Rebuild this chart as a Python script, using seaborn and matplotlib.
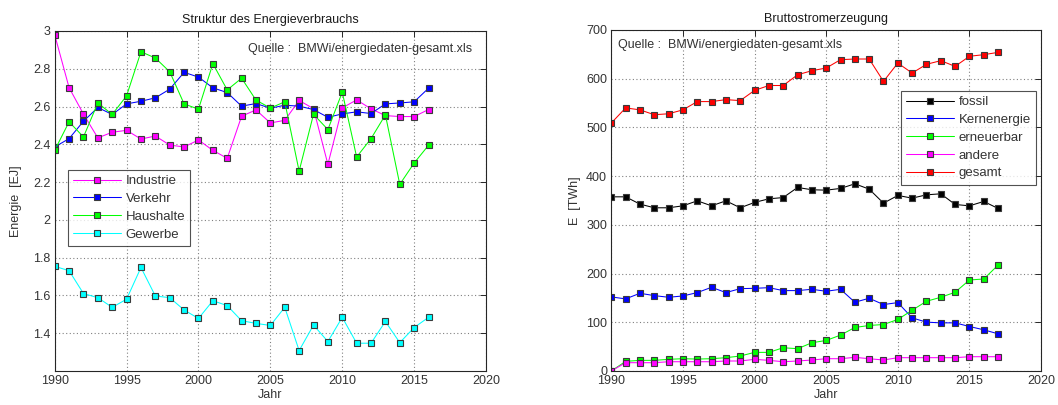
import numpy as np
import pandas as pd
import matplotlib
matplotlib.use("Agg")
import matplotlib.pyplot as plt
import seaborn as sns

# ---- Energieverbrauch nach Sektoren (EJ), 1990-2016 ----
years_left = list(range(1990, 2017))
industrie = [2.98, 2.70, 2.56, 2.434, 2.464, 2.474, 2.428, 2.444, 2.396, 2.386,
             2.423, 2.368, 2.326, 2.549, 2.582, 2.513, 2.527, 2.632, 2.589, 2.294,
             2.593, 2.635, 2.588, 2.552, 2.547, 2.547, 2.584]
verkehr = [2.386, 2.43, 2.522, 2.595, 2.558, 2.614, 2.628, 2.646, 2.692, 2.781,
           2.756, 2.699, 2.674, 2.602, 2.616, 2.591, 2.607, 2.602, 2.584, 2.543,
           2.561, 2.572, 2.563, 2.614, 2.619, 2.625, 2.697]
haushalte = [2.368, 2.519, 2.439, 2.619, 2.558, 2.657, 2.89, 2.857, 2.784, 2.614,
             2.586, 2.827, 2.688, 2.75, 2.634, 2.592, 2.625, 2.258, 2.559, 2.478,
             2.676, 2.333, 2.43, 2.556, 2.188, 2.301, 2.395]
gewerbe = [1.754, 1.731, 1.61, 1.588, 1.537, 1.58, 1.748, 1.597, 1.588, 1.523,
           1.478, 1.572, 1.546, 1.466, 1.452, 1.441, 1.537, 1.308, 1.443, 1.356,
           1.484, 1.347, 1.347, 1.462, 1.35, 1.43, 1.484]

# ---- Bruttostromerzeugung (TWh), 1990-2017 ----
years_right = list(range(1990, 2018))
fossil = [357.5, 357.5, 342.5, 335, 335, 339, 349.3, 339, 349.3, 335,
          346, 353.4, 356, 376.7, 372, 371.2, 374.7, 384.2, 373.3, 344.5,
          360.3, 354.8, 361.6, 363.7, 341.8, 339, 348, 333.6]
kernenergie = [152, 148, 159.5, 154.7, 151.3, 154, 160.9, 171.8, 160.9, 169,
               169.7, 171, 165, 165, 167.7, 163.6, 167.7, 141.1, 149.3, 136.3,
               140.4, 109, 100.2, 98.8, 98.8, 91.3, 84.5, 76.3]
erneuerbar = [0, 19.8, 21.8, 21.8, 23.9, 25.2, 24.5, 25.2, 27.3, 30.7,
              38.2, 38.2, 47.7, 45.7, 57.9, 62.7, 73.6, 89.3, 93.4, 95.4,
              105.7, 124.7, 143.1, 151.3, 161.6, 186.8, 188.8, 217.4]
andere = [0, 17, 17, 17, 19, 19, 19, 19, 20.5, 20.5,
          23.9, 21.8, 19, 20.5, 22.5, 25.2, 25.2, 28, 25.2, 22.5,
          27.3, 27.3, 27.3, 27.3, 27.3, 29.3, 29.3, 29.3]
gesamt = [509, 540, 536, 526, 528, 536, 553, 553, 557, 555,
          576, 586, 586, 608, 616.4, 621.9, 639, 640.4, 640.4, 594.5,
          632, 611.6, 629.5, 637, 625.3, 646, 649.3, 654]

left_series = [("Industrie", industrie, "#ff00ff"),
               ("Verkehr", verkehr, "#0000ff"),
               ("Haushalte", haushalte, "#00ff00"),
               ("Gewerbe", gewerbe, "#00ffff")]
right_series = [("fossil", fossil, "#000000"),
                ("Kernenergie", kernenergie, "#0000ff"),
                ("erneuerbar", erneuerbar, "#00ff00"),
                ("andere", andere, "#ff00ff"),
                ("gesamt", gesamt, "#ff0000")]

sns.set_style("white")
plt.rcParams["font.family"] = ["Liberation Sans", "DejaVu Sans"]
plt.rcParams["font.size"] = 9

fig = plt.figure(figsize=(10.58, 4.05), dpi=100)
ax1 = fig.add_axes([0.0517, 0.084, 0.4077, 0.8395])
ax2 = fig.add_axes([0.5778, 0.084, 0.4062, 0.842])

text_col = "#333333"
edge_col = "#3a3a3a"


def style_axes(ax):
    ax.set_facecolor("white")
    for sp in ax.spines.values():
        sp.set_visible(True)
        sp.set_color("#262626")
        sp.set_linewidth(0.8)
    ax.grid(True, linestyle=(0, (1, 2.2)), color="#808080", linewidth=0.8)
    ax.set_axisbelow(True)
    ax.tick_params(direction="in", length=4, width=0.7, top=True, right=True,
                   labelsize=9, colors=text_col, color="#262626", pad=3)


def draw(ax, series, xs):
    for name, vals, col in series:
        df = pd.DataFrame({"Jahr": xs, "Wert": vals})
        sns.lineplot(data=df, x="Jahr", y="Wert", ax=ax, color=col,
                     linewidth=0.75, marker="s", markersize=4.6,
                     markerfacecolor=col, markeredgecolor=edge_col,
                     markeredgewidth=0.8, label=name)


def style_legend(leg):
    leg.get_frame().set_edgecolor("#262626")
    leg.get_frame().set_linewidth(0.8)
    for t in leg.get_texts():
        t.set_color(text_col)


# Left panel: Struktur des Energieverbrauchs
draw(ax1, left_series, years_left)
style_axes(ax1)
ax1.set_xlim(1990, 2020)
ax1.set_ylim(1.2, 3.0)
ax1.set_xticks(range(1990, 2021, 5))
ax1.set_yticks([1.4, 1.6, 1.8, 2.0, 2.2, 2.4, 2.6, 2.8, 3.0])
ax1.set_yticklabels(["1.4", "1.6", "1.8", "2", "2.2", "2.4", "2.6", "2.8", "3"])
ax1.set_title("Struktur des Energieverbrauchs", fontsize=9, color="#1a1a1a", pad=6)
ax1.set_xlabel("Jahr", fontsize=9, color=text_col, labelpad=1)
ax1.set_ylabel("Energie  [EJ]", fontsize=9, color=text_col, labelpad=8)
ax1.text(0.967, 0.947, "Quelle :  BMWi/energiedaten-gesamt.xls", transform=ax1.transAxes,
         ha="right", va="center", fontsize=9, color=text_col)
leg1 = ax1.legend(loc="upper left", bbox_to_anchor=(0.031, 0.592), fontsize=9.5,
                  frameon=True, fancybox=False, borderpad=0.4, labelspacing=0.42,
                  handlelength=3.6, handletextpad=0.35, borderaxespad=0)
style_legend(leg1)

# Right panel: Bruttostromerzeugung
draw(ax2, right_series, years_right)
style_axes(ax2)
ax2.set_xlim(1990, 2020)
ax2.set_ylim(0, 700)
ax2.set_xticks(range(1990, 2021, 5))
ax2.set_yticks(range(0, 701, 100))
ax2.set_title("Bruttostromerzeugung", fontsize=9, color="#1a1a1a", pad=6)
ax2.set_xlabel("Jahr", fontsize=9, color=text_col, labelpad=1)
ax2.set_ylabel("E  [TWh]", fontsize=9, color=text_col, labelpad=4)
ax2.text(0.016, 0.956, "Quelle :  BMWi/energiedaten-gesamt.xls", transform=ax2.transAxes,
         ha="left", va="center", fontsize=9, color=text_col)
leg2 = ax2.legend(loc="upper right", bbox_to_anchor=(0.988, 0.822), fontsize=9.5,
                  frameon=True, fancybox=False, borderpad=0.4, labelspacing=0.42,
                  handlelength=3.6, handletextpad=0.35, borderaxespad=0)
style_legend(leg2)

fig.savefig("out.png", dpi=100, facecolor="white")
